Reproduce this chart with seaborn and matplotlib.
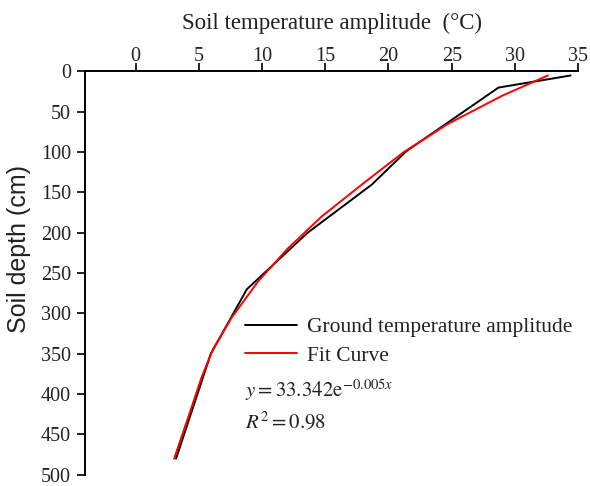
import numpy as np
import pandas as pd
import matplotlib
matplotlib.use('Agg')
import matplotlib.pyplot as plt
import seaborn as sns

depth_obs = [5, 20, 99, 140, 200, 270, 350, 480]
amp_obs = [34.4, 28.7, 21.4, 18.7, 13.6, 8.8, 5.95, 3.2]

# fitted curve
depth_fit = [5, 30, 65, 100, 140, 180, 220, 260, 305, 345, 380, 420, 480]
amp_fit = [32.6, 29.0, 24.7, 21.2, 17.9, 14.7, 12.0, 9.7, 7.6, 6.1, 5.2, 4.35, 3.05]

x_ticks = [0, 5, 10, 15, 20, 25, 30, 35]
y_ticks = [0, 50, 100, 150, 200, 250, 300, 350, 400, 450, 500]

sns.set_theme(style='ticks')
plt.rcParams['font.family'] = ['Liberation Serif', 'DejaVu Serif']
plt.rcParams['mathtext.fontset'] = 'stix'

obs = pd.DataFrame({'amp': amp_obs, 'depth': depth_obs})
fit = pd.DataFrame({'amp': amp_fit, 'depth': depth_fit})

fig = plt.figure(figsize=(5.9, 4.86), dpi=100)
ax = fig.add_axes([0.144, 0.023, 0.836, 0.830])

sns.lineplot(data=obs, x='amp', y='depth', sort=False, estimator=None,
             color='black', lw=1.4, ax=ax, label='Ground temperature amplitude')
sns.lineplot(data=fit, x='amp', y='depth', sort=False, estimator=None,
             color='red', lw=1.4, ax=ax, label='Fit Curve')

ax.set_xlim(-4, 35)
ax.set_ylim(500, 0)
ax.set_xticks(x_ticks)
ax.set_yticks(y_ticks)
ax.xaxis.tick_top()
ax.xaxis.set_label_position('top')
ax.tick_params(axis='both', labelsize=14.5, width=1.2, length=5.5, color='black',
               labelcolor='#222222')
ax.tick_params(axis='x', top=True, bottom=False, pad=-1.5)
ax.tick_params(axis='y', pad=4.5)
ax.spines['bottom'].set_visible(False)
ax.spines['right'].set_visible(False)
for s in ['top', 'left']:
    ax.spines[s].set_linewidth(1.4)
    ax.spines[s].set_color('black')

ax.set_xlabel('Soil temperature amplitude  (°C)', fontsize=16.5,
              color='#222222', labelpad=13)
ax.set_ylabel('Soil depth (cm)', fontsize=18, color='#222222',
              family=['Liberation Sans', 'DejaVu Sans'])
ax.yaxis.set_label_coords(-0.11, 0.559)

leg = ax.legend(loc='upper left', bbox_to_anchor=(0.307, 0.412), frameon=False,
                fontsize=15.5, handlelength=2.4, handletextpad=0.5,
                labelspacing=0.4, borderaxespad=0)
for t in leg.get_texts():
    t.set_color('#222222')

ax.text(0.324, 0.21, r'$y = 33.342\mathrm{e}^{-0.005x}$', transform=ax.transAxes,
        fontsize=15, color='#222222', va='center')
ax.text(0.324, 0.13, r'$R^2 = 0.98$', transform=ax.transAxes,
        fontsize=15, color='#222222', va='center')

fig.savefig('out.png', dpi=100)
